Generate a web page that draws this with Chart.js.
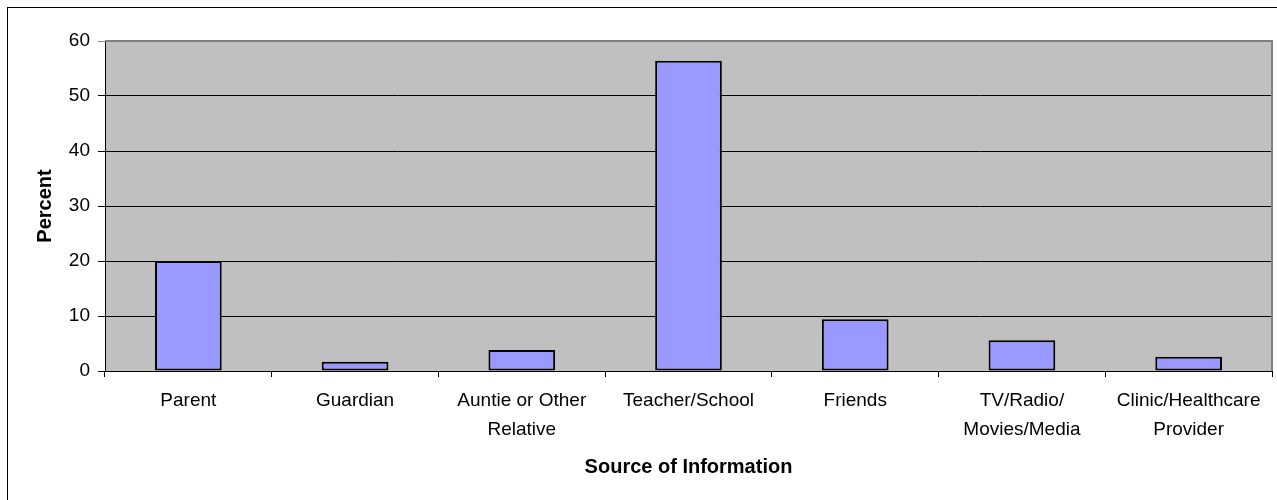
<!DOCTYPE html>
<html>
<head>
<meta charset="utf-8">
<script src="https://cdn.jsdelivr.net/npm/chart.js@4"></script>
<style>
  html, body { margin: 0; padding: 0; background: #fff; }
  canvas { display: block; }
</style>
</head>
<body>
<canvas id="sourceChart" width="1277" height="500"></canvas>
<script>
// Source of information chart
const categories = [
    'Parent',
    'Guardian',
    ['Auntie or Other', 'Relative'],
    'Teacher/School',
    'Friends',
    ['TV/Radio/', 'Movies/Media'],
    ['Clinic/Healthcare', 'Provider']
];
const percentValues = [20, 1.7, 3.8, 56.4, 9.4, 5.6, 2.6];
const yMin = 0;
const yMax = 60;
const yStep = 10;

const fontFamily = '"Liberation Sans", Arial, sans-serif';

// grey plot background, grey frame on top/right, outer box
const plotFrame = {
    id: 'plotFrame',
    beforeDraw(chart) {
        const { ctx, chartArea: a } = chart;
        ctx.save();
        ctx.fillStyle = '#fff';
        ctx.fillRect(0, 0, chart.width, chart.height);
        ctx.strokeStyle = '#000';
        ctx.lineWidth = 1;
        ctx.strokeRect(7.5, 7.5, chart.width + 20, chart.height + 20);
        ctx.fillStyle = '#C0C0C0';
        ctx.fillRect(a.left, a.top, a.right - a.left, a.bottom - a.top);
        ctx.restore();
    },
    afterDraw(chart) {
        const { ctx, chartArea: a } = chart;
        ctx.save();
        ctx.strokeStyle = '#808080';
        ctx.lineWidth = 2;
        ctx.beginPath();
        ctx.moveTo(a.left, a.top);
        ctx.lineTo(a.right, a.top);
        ctx.lineTo(a.right, a.bottom);
        ctx.stroke();
        ctx.restore();
    }
};

const ctx = document.getElementById('sourceChart').getContext('2d');
const sourceChart = new Chart(ctx, {
    type: 'bar',
    data: {
        labels: categories,
        datasets: [{
            label: 'Percent',
            data: percentValues,
            backgroundColor: '#9999FF',
            borderColor: '#000',
            borderWidth: 2,
            borderSkipped: false,
            barPercentage: 0.4,
            categoryPercentage: 1
        }]
    },
    options: {
        responsive: false,
        animation: false,
        layout: {
            padding: { top: 41, left: 0, right: 5, bottom: 0 }
        },
        plugins: {
            legend: { display: false },
            tooltip: { enabled: false }
        },
        scales: {
            x: {
                grid: {
                    offset: true,
                    drawOnChartArea: false,
                    drawTicks: true,
                    tickLength: 6,
                    color: '#000'
                },
                border: { display: true, color: '#000', width: 1 },
                ticks: {
                    color: '#000',
                    padding: 10,
                    maxRotation: 0,
                    autoSkip: false,
                    font: { family: fontFamily, size: 19, lineHeight: 1.5 }
                },
                title: {
                    display: true,
                    text: 'Source of Information',
                    color: '#000',
                    padding: { top: 0, bottom: 21 },
                    font: { family: fontFamily, size: 20, weight: 'bold' }
                },
                afterFit(scale) { scale.height = 129; }
            },
            y: {
                min: yMin,
                max: yMax,
                ticks: {
                    stepSize: yStep,
                    color: '#000',
                    padding: 8,
                    font: { family: fontFamily, size: 19 }
                },
                grid: {
                    color: (c) => (c.tick && c.tick.value === yMax ? '#808080' : '#000'),
                    lineWidth: 1,
                    tickLength: 7
                },
                border: { display: true, color: '#000', width: 1 },
                title: {
                    display: true,
                    text: 'Percent',
                    color: '#000',
                    padding: { top: 33, bottom: 0 },
                    font: { family: fontFamily, size: 20, weight: 'bold' }
                },
                afterFit(scale) { scale.width = 105; }
            }
        }
    },
    plugins: [plotFrame]
});
</script>
</body>
</html>
